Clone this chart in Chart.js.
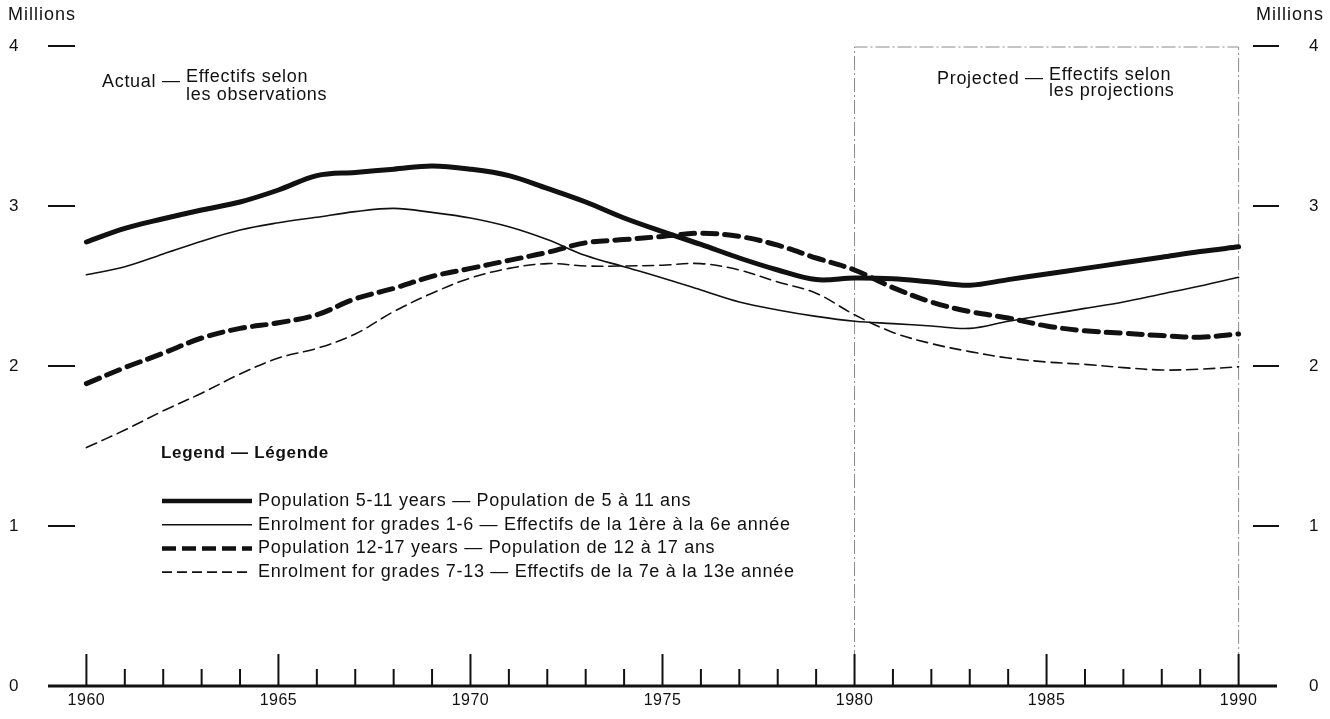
<!DOCTYPE html>
<html><head><meta charset="utf-8">
<script src="https://cdn.jsdelivr.net/npm/chart.js@4.4.1/dist/chart.umd.min.js"></script>
<style>html,body{margin:0;padding:0;background:#fff}#wrap{width:1330px;height:719px}</style>
</head><body><div id="wrap"><canvas id="c" width="1330" height="719"></canvas></div>
<script>
const years = [1960,1961,1962,1963,1964,1965,1966,1967,1968,1969,1970,1971,1972,1973,1974,1975,1976,1977,1978,1979,1980,1981,1982,1983,1984,1985,1986,1987,1988,1989,1990];
const pop5to11 = [2.775,2.86,2.92,2.975,3.025,3.1,3.19,3.21,3.23,3.25,3.23,3.19,3.11,3.025,2.925,2.84,2.76,2.675,2.6,2.54,2.55,2.545,2.525,2.505,2.54,2.575,2.61,2.645,2.68,2.715,2.745];
const enrol1to6 = [2.57,2.62,2.70,2.78,2.85,2.895,2.93,2.965,2.985,2.96,2.925,2.87,2.79,2.69,2.62,2.55,2.475,2.40,2.35,2.31,2.28,2.265,2.25,2.235,2.28,2.32,2.36,2.40,2.45,2.50,2.555];
const pop12to17 = [1.89,1.99,2.08,2.175,2.235,2.27,2.32,2.42,2.485,2.56,2.61,2.66,2.71,2.77,2.79,2.81,2.83,2.81,2.755,2.675,2.60,2.49,2.40,2.34,2.30,2.25,2.22,2.205,2.19,2.18,2.20];
const enrol7to13 = [1.49,1.60,1.72,1.83,1.95,2.05,2.11,2.20,2.34,2.455,2.55,2.61,2.64,2.625,2.625,2.63,2.64,2.60,2.525,2.455,2.32,2.21,2.14,2.09,2.05,2.025,2.01,1.99,1.975,1.98,1.995];
const yTicks = [0,1,2,3,4];
const yearLabels = [1960,1965,1970,1975,1980,1985,1990];
const seriesNames = [
  "Population 5-11 years \u2014 Population de 5 \u00e0 11 ans",
  "Enrolment for grades 1-6 \u2014 Effectifs de la 1\u00e8re \u00e0 la 6e ann\u00e9e",
  "Population 12-17 years \u2014 Population de 12 \u00e0 17 ans",
  "Enrolment for grades 7-13 \u2014 Effectifs de la 7e \u00e0 la 13e ann\u00e9e"
];
const projStart = 1980, projEnd = 1990;

const FONT = '"Liberation Sans", Arial, Helvetica, sans-serif';
const toXY = arr => arr.map((v,i)=>({x:years[i], y:v}));

const styles = [
  {w:5, dash:[]},
  {w:1.6, dash:[]},
  {w:5, dash:[14,8]},
  {w:1.6, dash:[11,6]}
];
const allData = [pop5to11, enrol1to6, pop12to17, enrol7to13];

const decor = {
  id:'decor',
  beforeDatasetsDraw(chart){
    const ctx = chart.ctx, xs = chart.scales.x, ys = chart.scales.y;
    ctx.save();
    ctx.strokeStyle = '#8a8a8a'; ctx.lineWidth = 1; ctx.setLineDash([14,3,2,3]);
    const bx1 = xs.getPixelForValue(projStart), bx2 = xs.getPixelForValue(projEnd);
    const bt = ys.getPixelForValue(4)+1, bb = ys.getPixelForValue(0);
    ctx.beginPath();
    ctx.moveTo(bx1,bb); ctx.lineTo(bx1,bt); ctx.lineTo(bx2,bt); ctx.lineTo(bx2,bb);
    ctx.stroke();
    ctx.restore();
  },
  afterDatasetsDraw(chart){
    const ctx = chart.ctx, xs = chart.scales.x, ys = chart.scales.y;
    ctx.save();
    ctx.fillStyle = '#111'; ctx.strokeStyle = '#111';
    const base = ys.getPixelForValue(0);
    ctx.lineWidth = 3;
    ctx.beginPath(); ctx.moveTo(xs.getPixelForValue(1959), base); ctx.lineTo(xs.getPixelForValue(1991), base); ctx.stroke();
    for (let yr = 1960; yr <= 1990; yr++) {
      const px = xs.getPixelForValue(yr);
      const major = (yr % 5 === 0);
      ctx.lineWidth = 2;
      ctx.beginPath(); ctx.moveTo(px, base); ctx.lineTo(px, base - (major ? 32 : 17)); ctx.stroke();
    }
    ctx.letterSpacing = '0.5px';
    ctx.font = '16px ' + FONT; ctx.textAlign = 'center'; ctx.textBaseline = 'middle';
    yearLabels.forEach(yr => ctx.fillText(String(yr), xs.getPixelForValue(yr), base + 15));
    const lx1 = xs.getPixelForValue(1959), lx2 = lx1 + 27;
    const rx2 = xs.getPixelForValue(1991) + 2, rx1 = rx2 - 26;
    ctx.font = '17px ' + FONT;
    yTicks.forEach(t => {
      const py = ys.getPixelForValue(t);
      if (t > 0) {
        ctx.lineWidth = 2;
        ctx.beginPath(); ctx.moveTo(lx1, py); ctx.lineTo(lx2, py); ctx.stroke();
        ctx.beginPath(); ctx.moveTo(rx1, py); ctx.lineTo(rx2, py); ctx.stroke();
      }
      ctx.textAlign = 'left';
      ctx.fillText(String(t), 9, py);
      ctx.fillText(String(t), 1309, py);
    });
    ctx.letterSpacing = '1px';
    ctx.font = '18px ' + FONT;
    ctx.textAlign = 'left';
    ctx.fillText('Millions', 8, 15);
    ctx.fillText('Millions', 1256, 15);
    ctx.letterSpacing = '0.7px';
    ctx.fillText('Actual', 102, 82);
    ctx.fillText('\u2014', 162, 81);
    ctx.fillText('Effectifs selon', 186, 77);
    ctx.fillText('les observations', 186, 95);
    ctx.fillText('Projected', 937, 79);
    ctx.fillText('\u2014', 1025, 78);
    ctx.fillText('Effectifs selon', 1049, 75);
    ctx.fillText('les projections', 1049, 91);
    ctx.font = 'bold 17px ' + FONT;
    ctx.fillText('Legend \u2014 L\u00e9gende', 161, 453);
    ctx.font = '18px ' + FONT;
    seriesNames.forEach((name, i) => {
      const y = 501 + i * 23.7;
      ctx.lineWidth = styles[i].w > 3 ? 4.5 : 1.6;
      ctx.setLineDash(styles[i].dash.length ? (i===2 ? [14,6] : [10,5]) : []);
      ctx.beginPath(); ctx.moveTo(162, y); ctx.lineTo(252, y); ctx.stroke();
      ctx.setLineDash([]);
      ctx.fillText(name, 258, y);
    });
    ctx.restore();
  }
};

new Chart(document.getElementById('c'), {
  type: 'line',
  data: {
    datasets: allData.map((arr, i) => ({
      label: seriesNames[i],
      data: toXY(arr),
      borderColor: '#111',
      borderWidth: styles[i].w,
      borderDash: styles[i].dash,
      borderCapStyle: 'round',
      borderJoinStyle: 'round',
      pointRadius: 0,
      tension: 0.35,
      fill: false
    }))
  },
  options: {
    responsive: false,
    animation: false,
    devicePixelRatio: 1,
    layout: { padding: { left: 48, right: 53, top: 46, bottom: 33 } },
    plugins: { legend: { display: false }, tooltip: { enabled: false } },
    scales: {
      x: { type: 'linear', min: 1959, max: 1991, display: false },
      y: { type: 'linear', min: 0, max: 4, display: false }
    }
  },
  plugins: [decor]
});
</script></body></html>
